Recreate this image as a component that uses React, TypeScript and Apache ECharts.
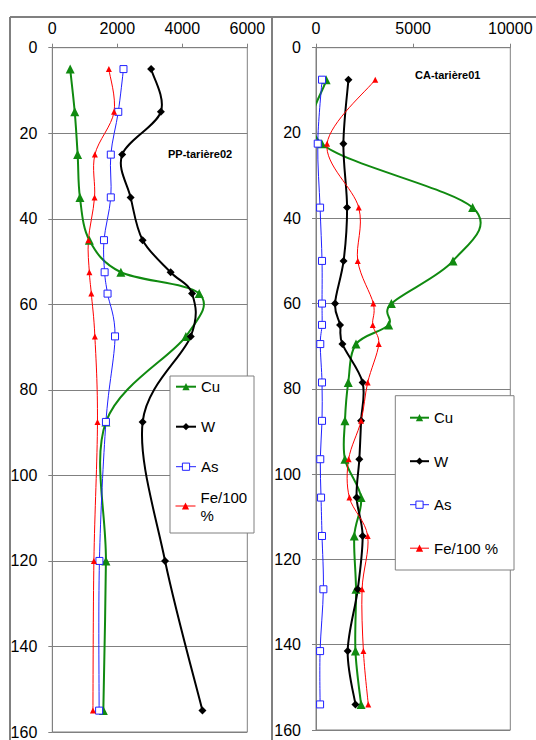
import React, { useEffect, useRef } from "react";
import * as echarts from "echarts";

// ---------- DATA ----------
const seriesNames = ["Cu", "W", "As", "Fe/100 %"];

// PP-tarière02 (left panel)
const ppDepths = [5, 15, 25, 35, 45, 52.5, 57.5, 67.5, 87.5, 120, 155];
const ppCu = [550, 690, 780, 850, 1140, 2110, 4520, 4110, 1650, 1650, 1570];
const ppW = [3040, 3340, 2150, 2410, 2780, 3640, 4300, 4260, 2780, 3470, 4620];
const ppAs = [2190, 2030, 1800, 1800, 1590, 1610, 1700, 1930, 1650, 1450, 1440];
const ppFe = [1740, 1900, 1310, 1300, 1110, 1140, 1200, 1310, 1390, 1280, 1250];

// CA-tarière01 (right panel)
const caDepths = [7.5, 22.5, 37.5, 50, 60, 65, 69.5, 78.5, 87.5, 96.5, 105.5, 114.5, 127, 141.5, 154];
const caCu = [520, 300, 8060, 7050, 3880, 3740, 2060, 1660, 1490, 1490, 2320, 1970, 2060, 2030, 2320];
const caW = [1670, 1410, 1600, 1420, 980, 1240, 1360, 2400, 2320, 2230, 2090, 2400, 2150, 1630, 2030];
const caAs = [310, 90, 210, 310, 310, 310, 220, 310, 310, 220, 260, 310, 380, 210, 210];
const caFe = [3050, 570, 2200, 2150, 2950, 2920, 3230, 2660, 2320, 1680, 1720, 2660, 2370, 2440, 2690];

// tick labels
const ppXTicks = [0, 2000, 4000, 6000];
const caXTicks = [0, 5000, 10000];
const depthTicks = [0, 20, 40, 60, 80, 100, 120, 140, 160];

const panelTitles = ["PP-tarière02", "CA-tarière01"];

// ---------- STYLES ----------
const FONT = "'Liberation Sans', Arial, sans-serif";
const GRAY = "#808080";
const styles: Record<string, any> = {
  Cu: { color: "#108a10", width: 2, symbol: "triangle", size: 9 },
  W: { color: "#000000", width: 2, symbol: "diamond", size: 8 },
  As: { color: "#2020ff", width: 1, symbol: "rect", size: 7 },
  "Fe/100 %": { color: "#ff0000", width: 1, symbol: "triangle", size: 6 },
};

function smoothPath(pts: number[][]): string {
  if (pts.length < 2) return "";
  let d = `M${pts[0][0]},${pts[0][1]}`;
  for (let i = 0; i < pts.length - 1; i++) {
    const p0 = pts[i - 1] || pts[i];
    const p1 = pts[i];
    const p2 = pts[i + 1];
    const p3 = pts[i + 2] || p2;
    const c1x = p1[0] + (p2[0] - p0[0]) / 6;
    const c1y = p1[1] + (p2[1] - p0[1]) / 6;
    const c2x = p2[0] - (p3[0] - p1[0]) / 6;
    const c2y = p2[1] - (p3[1] - p1[1]) / 6;
    d += ` C${c1x},${c1y} ${c2x},${c2y} ${p2[0]},${p2[1]}`;
  }
  return d;
}

function buildSeries(gi: number, depths: number[], values: number[][]) {
  const out: any[] = [];
  values.forEach((xs, k) => {
    const name = seriesNames[k];
    const st = styles[name];
    out.push({
      type: "custom",
      xAxisIndex: gi,
      yAxisIndex: gi,
      data: [[0, 0]],
      clip: true,
      silent: true,
      z: 2,
      renderItem: (_params: any, api: any) => {
        const pts = xs.map((v, i) => api.coord([v, depths[i]]));
        return {
          type: "path",
          shape: { pathData: smoothPath(pts) },
          style: { fill: "none", stroke: st.color, lineWidth: st.width, lineJoin: "round" },
        };
      },
    });
    const isAs = name === "As";
    out.push({
      type: "line",
      name,
      xAxisIndex: gi,
      yAxisIndex: gi,
      data: xs.map((v, i) => [v, depths[i]]),
      symbol: st.symbol,
      symbolSize: st.size,
      showSymbol: true,
      showAllSymbol: true,
      clip: true,
      silent: true,
      z: 3,
      itemStyle: isAs
        ? { color: "#ffffff", borderColor: st.color, borderWidth: 1 }
        : { color: st.color, borderWidth: 0 },
      lineStyle: { color: st.color, width: st.width, opacity: 0 },
    });
  });
  return out;
}

function legendData(names: string[]) {
  return names.map((name) => {
    const st = styles[name];
    const isAs = name === "As";
    return {
      name,
      itemStyle: isAs
        ? { color: "#ffffff", borderColor: st.color, borderWidth: 1, opacity: 1 }
        : { color: st.color, borderWidth: 0, opacity: 1 },
      lineStyle: { color: st.color, width: st.width, opacity: 1, type: "solid" },
    };
  });
}

export default function App() {
  const ref = useRef<HTMLDivElement>(null);
  useEffect(() => {
    if (!ref.current) return;
    const chart = echarts.init(ref.current, undefined, { renderer: "svg" });
    const axisLabel = { fontSize: 16, color: "#000", fontFamily: FONT };
    const xAxisBase = (ticks: number[]) => ({
      type: "value",
      position: "top",
      min: ticks[0],
      max: ticks[ticks.length - 1],
      interval: ticks[1] - ticks[0],
      axisLine: { show: true, lineStyle: { color: GRAY, width: 1 } },
      axisTick: { show: true, length: 4, lineStyle: { color: GRAY } },
      axisLabel: { ...axisLabel, margin: 11, formatter: (v: number) => String(v) },
      splitLine: { show: false },
    });
    const yAxisBase = () => ({
      type: "value",
      inverse: true,
      min: depthTicks[0],
      max: depthTicks[depthTicks.length - 1],
      interval: depthTicks[1] - depthTicks[0],
      axisLine: { show: true, lineStyle: { color: GRAY, width: 1 } },
      axisTick: { show: true, length: 4, lineStyle: { color: GRAY } },
      axisLabel: { ...axisLabel, margin: 15, formatter: (v: number) => String(v) },
      splitLine: { show: true, lineStyle: { color: GRAY, width: 1 } },
    });
    const legendText = { fontSize: 15, lineHeight: 16, color: "#000", fontFamily: FONT };

    const option: any = {
      animation: false,
      backgroundColor: "#ffffff",
      title: [
        {
          text: panelTitles[0],
          left: 168,
          top: 147,
          padding: 0,
          textStyle: { fontSize: 11, fontWeight: "bold", color: "#000", fontFamily: FONT, lineHeight: 13 },
        },
        {
          text: panelTitles[1],
          left: 415,
          top: 68,
          padding: 0,
          textStyle: { fontSize: 11, fontWeight: "bold", color: "#000", fontFamily: FONT, lineHeight: 13 },
        },
      ],
      grid: [
        { left: 52.3, top: 47.7, width: 195, height: 684.5, show: true, borderColor: GRAY, borderWidth: 1, containLabel: false },
        { left: 316, top: 47.7, width: 194.3, height: 682.3, show: true, borderColor: GRAY, borderWidth: 1, containLabel: false },
      ],
      xAxis: [
        { ...xAxisBase(ppXTicks), gridIndex: 0 },
        { ...xAxisBase(caXTicks), gridIndex: 1 },
      ],
      yAxis: [
        { ...yAxisBase(), gridIndex: 0 },
        { ...yAxisBase(), gridIndex: 1 },
      ],
      legend: [
        {
          orient: "vertical",
          left: 175,
          top: 378.7,
          padding: 0,
          itemWidth: 20,
          itemHeight: 9,
          itemGap: 24,
          selectedMode: false,
          textStyle: legendText,
          data: legendData(seriesNames.slice(0, 3)),
        },
        {
          orient: "vertical",
          left: 175,
          top: 479,
          padding: 0,
          itemWidth: 20,
          itemHeight: 9,
          selectedMode: false,
          formatter: "Fe/100\n%",
          textStyle: {
            ...legendText,
            lineHeight: 18,
            padding: [18, 0, 0, 0],
            backgroundColor: "rgba(255,255,255,0)",
          },
          data: legendData(seriesNames.slice(3)),
        },
        {
          orient: "vertical",
          left: 409,
          top: 409.7,
          padding: 0,
          itemWidth: 19,
          itemHeight: 9,
          itemGap: 27.5,
          selectedMode: false,
          textStyle: legendText,
          data: legendData(seriesNames),
        },
      ],
      graphic: [
        { type: "line", silent: true, shape: { x1: 10, y1: 17, x2: 536, y2: 17 }, style: { stroke: GRAY, lineWidth: 2 } },
        { type: "line", silent: true, shape: { x1: 10, y1: 17, x2: 10, y2: 740 }, style: { stroke: GRAY, lineWidth: 2 } },
        { type: "line", silent: true, shape: { x1: 272, y1: 17, x2: 272, y2: 740 }, style: { stroke: GRAY, lineWidth: 2 } },
        { type: "rect", silent: true, z: 3, shape: { x: 170, y: 376, width: 84, height: 157 }, style: { fill: "#ffffff", stroke: GRAY, lineWidth: 1 } },
        { type: "rect", silent: true, z: 3, shape: { x: 395.3, y: 395.7, width: 118.7, height: 174.3 }, style: { fill: "#ffffff", stroke: GRAY, lineWidth: 1 } },
      ],
      series: [
        ...buildSeries(0, ppDepths, [ppCu, ppW, ppAs, ppFe]),
        ...buildSeries(1, caDepths, [caCu, caW, caAs, caFe]),
      ],
    };
    chart.setOption(option);
    return () => chart.dispose();
  }, []);
  return (
    <div
      ref={ref}
      style={{ position: "absolute", left: 0, top: 0, width: 536, height: 740 }}
    />
  );
}
